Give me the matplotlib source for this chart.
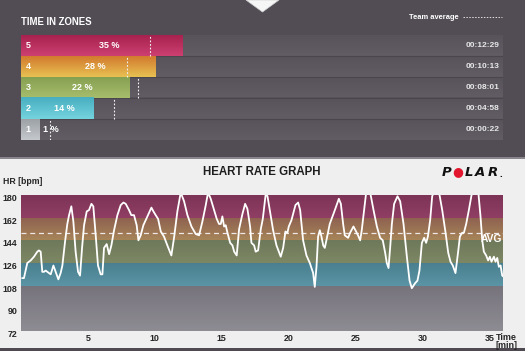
import numpy as np
import matplotlib
matplotlib.use("Agg")
import matplotlib.pyplot as plt
import matplotlib.font_manager as fm
from matplotlib.patches import Rectangle, Polygon
from matplotlib.lines import Line2D
from matplotlib.transforms import ScaledTranslation

# ---------------- data ----------------
zones = [5, 4, 3, 2, 1]
zone_pct = [35, 28, 22, 14, 1]
zone_time = ["00:12:29", "00:10:13", "00:08:01", "00:04:58", "00:00:22"]
zone_secs = [749, 613, 481, 298, 22]
team_avg_secs = [583, 466, 522, 400, 75]

band_edges = [72, 108, 126, 144, 162, 180]
hr_avg = 150

time_min = [0.10, 0.22, 0.47, 0.72, 0.97, 1.22, 1.34, 1.47, 1.59, 1.72,
            1.84, 1.97, 2.22, 2.42, 2.59, 2.79, 2.96, 3.09, 3.29, 3.46,
            3.59, 3.76, 3.91, 4.08, 4.26, 4.41, 4.56, 4.71, 4.91, 5.08,
            5.26, 5.40, 5.58, 5.75, 5.95, 6.08, 6.20, 6.40, 6.58, 6.75,
            6.95, 7.20, 7.45, 7.65, 7.82, 8.07, 8.24, 8.44, 8.64, 8.77,
            8.94, 9.14, 9.44, 9.74, 9.89, 10.06, 10.24, 10.44, 10.68, 10.93,
            11.23, 11.43, 11.68, 11.93, 12.18, 12.43, 12.73, 13.05, 13.30, 13.55,
            13.80, 13.97, 14.17, 14.42, 14.62, 14.79, 14.92, 15.04, 15.17, 15.29,
            15.42, 15.62, 15.79, 15.92, 16.11, 16.29, 16.54, 16.74, 16.91, 17.11,
            17.21, 17.41, 17.53, 17.71, 17.91, 18.06, 18.28, 18.41, 18.83, 19.08,
            19.40, 19.58, 19.75, 19.90, 20.00, 20.20, 20.50, 20.70, 20.85, 21.07,
            21.32, 21.57, 21.82, 21.94, 22.07, 22.19, 22.32, 22.44, 22.57, 22.69,
            22.81, 23.06, 23.44, 23.74, 23.89, 24.06, 24.18, 24.43, 24.58, 24.83,
            25.03, 25.21, 25.33, 25.45, 25.63, 25.78, 26.08, 26.33, 26.58, 26.82,
            27.02, 27.20, 27.32, 27.45, 27.57, 27.70, 27.87, 28.12, 28.32, 28.57,
            28.82, 29.02, 29.19, 29.32, 29.44, 29.61, 29.76, 29.94, 30.11, 30.26,
            30.39, 30.56, 30.71, 30.86, 31.21, 31.46, 31.71, 31.91, 32.08, 32.25,
            32.45, 32.65, 32.78, 32.95, 33.08, 33.25, 33.45, 33.65, 33.85, 34.15,
            34.32, 34.45, 34.57, 34.74, 34.89, 35.02, 35.14, 35.32, 35.44, 35.57,
            35.69, 35.82, 35.94, 36.06]
hr_bpm = [114, 114, 126, 128, 131, 135, 136, 135, 119, 119,
          120, 119, 117, 124, 119, 113, 118, 124, 143, 157,
          164, 171, 159, 135, 119, 116, 138, 156, 167, 168,
          173, 171, 148, 124, 117, 117, 138, 141, 133, 140,
          152, 164, 172, 174, 173, 168, 164, 164, 156, 144,
          148, 156, 163, 170, 167, 164, 161, 151, 147, 140,
          132, 146, 167, 182, 175, 164, 155, 149, 148, 159,
          172, 182, 177, 168, 161, 157, 157, 163, 155, 156,
          150, 142, 140, 135, 132, 153, 165, 173, 169, 155,
          142, 140, 135, 136, 153, 161, 181, 179, 152, 140,
          131, 138, 151, 150, 155, 160, 172, 174, 168, 144,
          132, 126, 118, 107, 123, 147, 152, 147, 140, 138,
          144, 157, 168, 177, 173, 157, 148, 146, 150, 155,
          151, 147, 144, 152, 168, 182, 182, 168, 155, 146,
          144, 134, 126, 122, 138, 157, 173, 179, 175, 157,
          131, 112, 106, 108, 110, 112, 120, 142, 146, 142,
          147, 160, 179, 183, 183, 168, 150, 134, 127, 124,
          118, 135, 147, 150, 150, 157, 168, 180, 183, 183,
          163, 144, 135, 132, 128, 131, 127, 131, 127, 130,
          123, 124, 116, 115]
assert len(time_min) == len(hr_bpm)

x_ticks = [5, 10, 15, 20, 25, 30, 35]
y_ticks = [72, 90, 108, 126, 144, 162, 180]

# ---------------- style ----------------
def has_font(name):
    try:
        fm.findfont(fm.FontProperties(family=name), fallback_to_default=False)
        return True
    except Exception:
        return False

BASE = "Liberation Sans" if has_font("Liberation Sans") else "DejaVu Sans"
NARROW = "Liberation Sans Narrow" if has_font("Liberation Sans Narrow") else None
plt.rcParams["font.family"] = [BASE, "DejaVu Sans"]

bar_cols = {5: ("#cc4070", "#a8224f"), 4: ("#e8c052", "#d27a2e"),
            3: ("#a6bd6c", "#86a052"), 2: ("#74d4de", "#48aec0"),
            1: ("#c4c8cc", "#9da2a7")}
band_cols = [("#8e8c93", "#76737c"), ("#5b95a5", "#4a7f90"),
             ("#7d8764", "#6e795b"), ("#a68458", "#8e6150"),
             ("#903e64", "#7d3456")]
PANEL = "#524d55"

W, H = 525, 351
fig = plt.figure(figsize=(W / 100, H / 100), dpi=100, facecolor="#efefef")

def fx(x):
    return x / W

def fy(y):
    return 1 - y / H

# background panels (behind the axes)
fig.patches.append(Rectangle((0, fy(157)), 1, 157 / H, transform=fig.transFigure,
                             facecolor=PANEL, edgecolor="none", zorder=-3))
fig.patches.append(Rectangle((0, fy(159)), 1, 2 / H, transform=fig.transFigure,
                             facecolor="#8a858d", edgecolor="none", zorder=-3))
fig.patches.append(Rectangle((0, 0), 1, 3 / H, transform=fig.transFigure,
                             facecolor="#4f4a52", edgecolor="none", zorder=-3))
fig.patches.append(Polygon([(fx(246), 1.0), (fx(279), 1.0), (fx(262.5), fy(12))],
                           closed=True, transform=fig.transFigure,
                           facecolor="#f6f6f6", edgecolor="#cfcfcf", lw=0.5, zorder=-2))


def vgrad(ax, x0, x1, y0, y1, ctop, cbot, z=1):
    a = np.array(matplotlib.colors.to_rgb(ctop))
    b = np.array(matplotlib.colors.to_rgb(cbot))
    t = np.linspace(0, 1, 32)[:, None]
    img = (a * (1 - t) + b * t)[:, None, :]
    ax.imshow(img, extent=(x0, x1, y0, y1), origin="upper", aspect="auto",
              interpolation="bilinear", zorder=z)

# ---------------- TIME IN ZONES ----------------
lead = 72
xmin, xmax = -lead, 2375
ax1 = fig.add_axes([fx(21), fy(140), 482 / W, 105 / H])
ax1.set_xlim(xmin, xmax)
ax1.set_ylim(0.5, 5.5)
ax1.axis("off")
for z in zones:
    vgrad(ax1, xmin, xmax, z + 0.5, z - 0.5, "#625d65", "#58535b", z=1)
for b in np.arange(0.5, 5.6, 1.0)[1:-1]:
    ax1.axhline(b, color="#4b464e", lw=0.8, zorder=2)
for z, s, p, tt, av in zip(zones, zone_secs, zone_pct, zone_time, team_avg_secs):
    ct, cb = bar_cols[z]
    vgrad(ax1, -lead, s, z + 0.5, z - 0.5, ct, cb, z=3)
    ax1.text(-lead / 2, z, str(z), color="white", fontsize=6.5, fontweight="bold",
             ha="center", va="center", zorder=6)
    if s > 150:
        ax1.text(s / 2, z, f"{p} %", color="white", fontsize=6.5, fontweight="bold",
                 ha="center", va="center", zorder=6)
    else:
        ax1.text(s + 18, z, f"{p} %", color="white", fontsize=6.5, fontweight="bold",
                 ha="left", va="center", zorder=6)
    ax1.vlines(av, z - 0.5, z + 0.5, colors="#f0f0f0", linestyles=(0, (1.6, 1.6)),
               lw=0.8, zorder=5)
    ax1.text(0.992, z, tt, transform=ax1.get_yaxis_transform(), color="#e6e6e6",
             fontsize=6, fontweight="bold", ha="right", va="center", zorder=6)
ax1.set_xlim(xmin, xmax)
ax1.set_ylim(0.5, 5.5)

if NARROW:
    fig.text(fx(21), fy(22), "TIME IN ZONES", family=[NARROW, BASE], fontsize=8.6,
             fontweight="bold", color="white", ha="left", va="center")
    fig.text(fx(459), fy(17.5), "Team average", family=[NARROW, BASE], fontsize=6.6,
             fontweight="bold", color="white", ha="right", va="center")
else:
    fig.text(fx(21), fy(22), "TIME IN ZONES", fontsize=6.9, fontweight="bold",
             color="white", ha="left", va="center")
    fig.text(fx(459), fy(17.5), "Team average", fontsize=5.4, fontweight="bold",
             color="white", ha="right", va="center")
fig.add_artist(Line2D([fx(463), fx(502)], [fy(17), fy(17)], transform=fig.transFigure,
                      color="#e0e0e0", lw=0.7, linestyle=(0, (1.5, 1.5))))

# ---------------- HEART RATE GRAPH ----------------
ax2 = fig.add_axes([fx(21), fy(331), 482 / W, 136 / H])
for i in range(len(band_edges) - 1):
    ct, cb = band_cols[i]
    vgrad(ax2, 0, 36, band_edges[i + 1], band_edges[i], ct, cb, z=1)
ax2.axhline(hr_avg, color="#efe6e6", lw=0.9, linestyle=(0, (4, 3)), zorder=3)
ax2.plot(time_min, hr_bpm, color="white", lw=1.3, zorder=4, solid_joinstyle="round")
ax2.text(35.95, hr_avg - 1.2, "AVG", color="white", fontsize=7.4, fontweight="bold",
         ha="right", va="top", zorder=5)
ax2.set_xlim(0, 36)
ax2.set_ylim(72, 180)
for s in ax2.spines.values():
    s.set_visible(False)
ax2.set_xticks(x_ticks)
ax2.set_yticks(y_ticks)
ax2.tick_params(length=0, labelsize=6.4, labelcolor="#262626", pad=2.5)
for lab in ax2.get_xticklabels() + ax2.get_yticklabels():
    lab.set_fontweight("bold")
for lab in ax2.get_yticklabels():
    lab.set_transform(lab.get_transform() + ScaledTranslation(0, -2.5 / 100, fig.dpi_scale_trans))

fig.text(fx(3), fy(181), "HR [bpm]", fontsize=6.3, fontweight="bold", color="#262626",
         ha="left", va="center")
fig.text(fx(261.5), fy(172), "HEART RATE GRAPH", fontsize=8.3, fontweight="bold",
         color="#1e1e1e", ha="center", va="center")
fig.text(fx(517), fy(337.5), "Time", fontsize=6.5, fontweight="bold", color="#262626",
         ha="right", va="center")
fig.text(fx(517), fy(346), "[min]", fontsize=6.5, fontweight="bold", color="#262626",
         ha="right", va="center")

# POLAR logo
logo_kw = dict(fontsize=9.5, fontweight="heavy", style="italic", color="#111111",
               ha="center", va="center", family=["DejaVu Sans"])
for ch, xc in [("P", 447), ("L", 468.5), ("A", 480), ("R", 492.5)]:
    fig.text(fx(xc), fy(172), ch, **logo_kw)
fig.text(fx(458), fy(172), "●", fontsize=9, color="#e2172d", ha="center", va="center",
         family=["DejaVu Sans"])
fig.text(fx(500.5), fy(174), ".", fontsize=7, color="#111111", ha="center", va="center",
         fontweight="bold")

fig.savefig("out.png", dpi=100, facecolor=fig.get_facecolor())
